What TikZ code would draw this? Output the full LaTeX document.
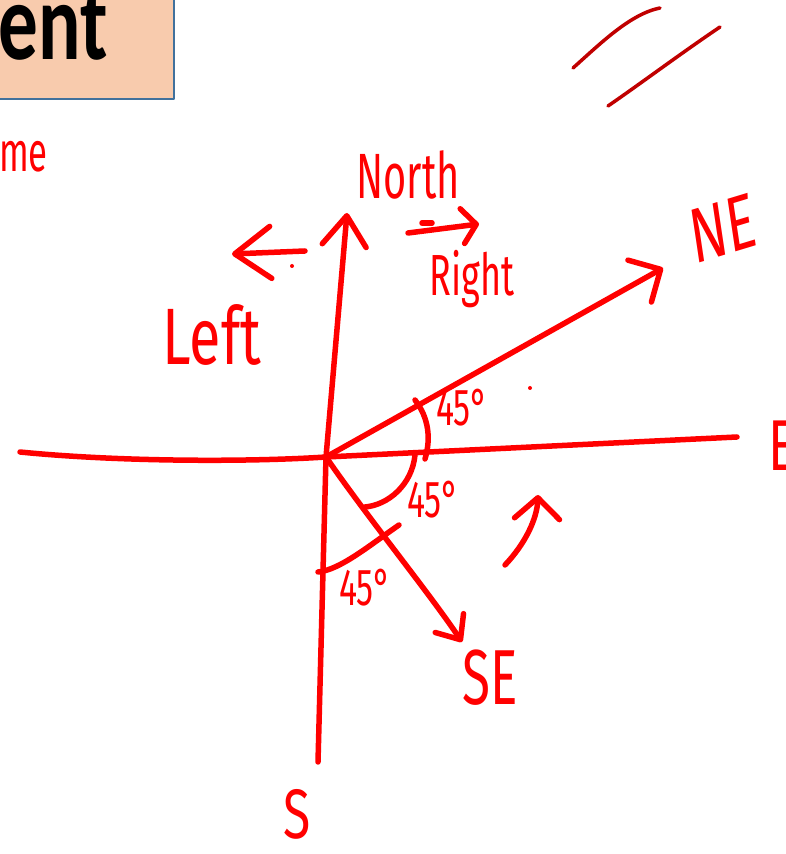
\documentclass[tikz,border=0pt]{standalone}
\usepackage{fontspec}
\newfontfamily\handfont{Fira Sans}
\newfontfamily\slidefont{Carlito}
\usetikzlibrary{arrows.meta}
\definecolor{peach}{HTML}{F8CBAD}
\definecolor{boxblue}{HTML}{41719C}
\definecolor{darkred}{HTML}{C00000}
\begin{document}
\begin{tikzpicture}[x=1pt,y=1pt,line join=round,line cap=round]
	\tikzset{pen/.style={red,line width=5.5pt},
		barb/.style 2 args={-{Straight Barb[length=#1,width=#2,round]}},
		hand/.style={red,inner sep=0pt,xscale=.62,font=\handfont\fontsize{#1}{#1}\selectfont}}
	\def\dotr{2}
	\useasboundingbox (0,0) rectangle (785,854);
	%\draw[gray!40] (0,0) grid[step=50] (785,854);
	\clip (0,0) rectangle (785,854);
	\draw[boxblue,fill=peach,line width=2.5pt] (-10,755) rectangle (174,870);
	\node[anchor=base east,inner sep=0pt,xscale=.72,font=\slidefont\bfseries\fontsize{110}{110}\selectfont] (title) at (108,794) {ent};
	\node[hand=56,anchor=east] (me) at (48,697) {me};
	\coordinate (O) at (326,397);
	\coordinate (N) at (347,641);
	\coordinate (S) at (318,92);
	\coordinate (W) at (20,402);
	\coordinate (E) at (737,417);
	\coordinate (NE) at (663,586);
	\coordinate (SE) at (462,212);
	\draw[pen,barb={30pt}{44pt}] (S) -- (O) -- (N);
	\draw[pen] (W) .. controls (120,392) and (250,392) .. (O) -- (E);
	\draw[pen,barb={24pt}{48pt}] (O) -- (NE);
	\draw[pen,barb={20pt}{34pt}] (O) .. controls (365,340) and (430,260) .. (SE);
	\draw[pen] (415,454) .. controls (429,436) and (431,415) .. (425,395);
	\draw[pen] (415,399) .. controls (412,369) and (388,349) .. (365,347);
	\draw[pen] (399,329) .. controls (370,309) and (340,284) .. (318,282);
	\foreach \x/\y/\n in {462/446/a,433/354/b,365/266/c}
		\node[hand=52,xscale=1.05] (deg\n) at (\x,\y) {45°};
	\node[hand=64] (north) at (408,679) {North};
	\node[hand=78,xscale=1.13,rotate=12] (ne) at (723,626) {NE};
	\node[hand=72,xscale=1.15] (east) at (782,408) {E};
	\node[hand=78,xscale=1.06] (se) at (490,176) {SE};
	\node[hand=70,xscale=1.15,anchor=base] (south) at (297,16) {S};
	\node[hand=80,xscale=1.16] (left) at (212,519) {Left};
	\node[hand=58] (right) at (472,575) {Right};
	\coordinate (la) at (305,603); \coordinate (lb) at (232,600);
	\draw[pen,barb={36pt}{52pt}] (la) -- (lb);
	\coordinate (ra) at (408,621); \coordinate (rb) at (479,630);
	\draw[pen,barb={14pt}{35pt}] (ra) -- (rb);
	\draw[pen] (422,631) -- (432,631);
	\coordinate (ca) at (505,289); \coordinate (cb) at (538,359);
	\draw[pen,barb={21pt}{45pt}] (ca) .. controls (525,310) and (537,335) .. (cb);
	\foreach \x/\y in {292/588,530/466} \fill[red] (\x,\y) circle (\dotr);
	\draw[darkred,line width=3.5pt] (573,786) .. controls (600,810) and (630,840) .. (660,846);
	\draw[darkred,line width=3.5pt] (608,748) .. controls (640,770) and (680,800) .. (720,827);
\end{tikzpicture}
\end{document}
